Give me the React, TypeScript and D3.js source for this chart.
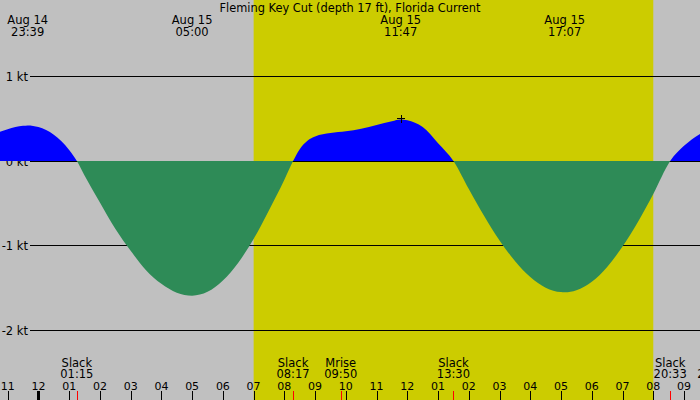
import React, { useEffect } from "react";
import * as d3 from "d3";

// Hours relative to Aug 15 00:00
const sampleHours = [
  -1.25, -1.0, -0.5, -0.35, 0.0, 0.5, 1.0, 1.25, 1.5, 2.0, 2.5, 3.0, 3.5, 4.0, 4.5, 5.0,
  5.5, 6.0, 6.5, 7.0, 7.5, 8.0, 8.283, 8.5, 8.75, 9.0, 9.5, 10.0, 10.5, 11.0, 11.5, 11.783,
  12.0, 12.5, 13.0, 13.5, 14.0, 14.5, 15.0, 15.5, 16.0, 16.5, 17.0, 17.117, 17.5, 18.0,
  18.5, 19.0, 19.5, 20.0, 20.55, 21.0, 21.52,
];
const currentKt = [
  0.345, 0.375, 0.415, 0.42, 0.4, 0.31, 0.13, 0.0, -0.17, -0.49, -0.8, -1.06, -1.29, -1.45, -1.555, -1.59,
  -1.545, -1.41, -1.2, -0.92, -0.58, -0.22, 0.0, 0.14, 0.24, 0.29, 0.33, 0.35, 0.38, 0.425, 0.47, 0.49,
  0.48, 0.4, 0.21, 0.0, -0.33, -0.65, -0.94, -1.18, -1.37, -1.495, -1.548, -1.55, -1.525, -1.425,
  -1.25, -1.01, -0.72, -0.39, 0.0, 0.18, 0.32,
];

const gridKt = [1, 0, -1, -2];
const gridLabels = ["1 kt", "0 kt", "-1 kt", "-2 kt"];

const hourTicks = d3.range(-1, 22);

const sunrise = 7.0;
const sunset = 20.0;

const peakHours = [-0.35, 5.0, 11.783, 17.117];
const peakDates = ["Aug 14", "Aug 15", "Aug 15", "Aug 15"];
const peakTimes = ["23:39", "05:00", "11:47", "17:07"];

const eventHours = [1.25, 8.283, 9.833, 13.5, 20.55, 21.97];
const eventNames = ["Slack", "Slack", "Mrise", "Slack", "Slack", "Mset"];
const eventTimes = ["01:15", "08:17", "09:50", "13:30", "20:33", "21:58"];

const markerHour = 11.783;
const markerKt = 0.49;

const title = "Fleming Key Cut (depth 17 ft), Florida Current";

const W = 700;
const H = 400;
const FONT = "DejaVu Sans, sans-serif";

export default function App() {
  useEffect(() => {
    document.body.style.margin = "0";
  }, []);

  const x = d3.scaleLinear().domain([-1.25, 21.52]).range([0, W]);
  const y = d3.scaleLinear().domain([0, 1]).range([161, 76.3]);

  const data = sampleHours.map((h, i) => ({ h, v: currentKt[i] }));

  const area = d3
    .area<{ h: number; v: number }>()
    .x((d) => x(d.h))
    .y0(y(0))
    .y1((d) => y(d.v))
    .curve(d3.curveMonotoneX);
  const areaPath = area(data) || "";
  const y0 = y(0);

  const hourLabel = (h: number) => {
    const hh = ((h % 24) + 24) % 24;
    const v = hh % 12 === 0 ? 12 : hh % 12;
    return String(v).padStart(2, "0");
  };

  return (
    <svg width={W} height={H} style={{ display: "block" }} fontFamily={FONT}>
      <defs>
        <clipPath id="above">
          <rect x={0} y={0} width={W} height={y0} />
        </clipPath>
        <clipPath id="below">
          <rect x={0} y={y0} width={W} height={H - y0} />
        </clipPath>
      </defs>
      <rect x={0} y={0} width={W} height={H} fill="#c0c0c0" />
      <rect x={x(sunrise)} y={0} width={x(sunset) - x(sunrise)} height={H} fill="#cccc00" />

      {gridKt.map((k, i) => {
        const yy = Math.floor(y(k)) + 0.5;
        return (
          <g key={k}>
            <line x1={30} x2={W} y1={yy} y2={yy} stroke="#000" strokeWidth={1} shapeRendering="crispEdges" />
            <text x={28} y={yy + 4} fontSize={11.5} textAnchor="end" fill="#000">
              {gridLabels[i]}
            </text>
          </g>
        );
      })}

      <path d={areaPath} fill="#0000ff" clipPath="url(#above)" />
      <path d={areaPath} fill="#2e8b57" clipPath="url(#below)" />

      <g stroke="#000" strokeWidth={1} shapeRendering="crispEdges">
        <line x1={x(markerHour) - 4} x2={x(markerHour) + 4} y1={y(markerKt) - 0.5} y2={y(markerKt) - 0.5} />
        <line x1={x(markerHour) + 0.5} x2={x(markerHour) + 0.5} y1={y(markerKt) - 4} y2={y(markerKt) + 4} />
      </g>

      <text x={W / 2} y={12} fontSize={11.4} textAnchor="middle" fill="#000">
        {title}
      </text>

      {peakHours.map((h, i) => (
        <g key={"p" + i}>
          <text x={x(h)} y={24} fontSize={11.5} textAnchor="middle" fill="#000">
            {peakDates[i]}
          </text>
          <text x={x(h)} y={36} fontSize={11.5} textAnchor="middle" fill="#000">
            {peakTimes[i]}
          </text>
        </g>
      ))}

      {eventHours.map((h, i) => (
        <g key={"e" + i}>
          <text x={x(h)} y={366.5} fontSize={11.5} textAnchor="middle" fill="#000">
            {eventNames[i]}
          </text>
          <text x={x(h)} y={378.3} fontSize={11.5} textAnchor="middle" fill="#000">
            {eventTimes[i]}
          </text>
        </g>
      ))}

      {hourTicks.map((h) => {
        const xx = Math.round(x(h)) + 0.5;
        const mid = ((h % 24) + 24) % 24 === 0;
        return (
          <g key={"h" + h}>
            <text x={x(h)} y={389.5} fontSize={11} textAnchor="middle" fill="#000">
              {hourLabel(h)}
            </text>
            <line x1={xx} x2={xx} y1={391} y2={H} stroke="#000" strokeWidth={mid ? 3 : 1} shapeRendering="crispEdges" />
          </g>
        );
      })}

      {eventHours.map((h, i) => (
        <line
          key={"r" + i}
          x1={Math.round(x(h)) + 0.5}
          x2={Math.round(x(h)) + 0.5}
          y1={391}
          y2={H}
          stroke="#ff0000"
          strokeWidth={1}
          shapeRendering="crispEdges"
        />
      ))}
    </svg>
  );
}
